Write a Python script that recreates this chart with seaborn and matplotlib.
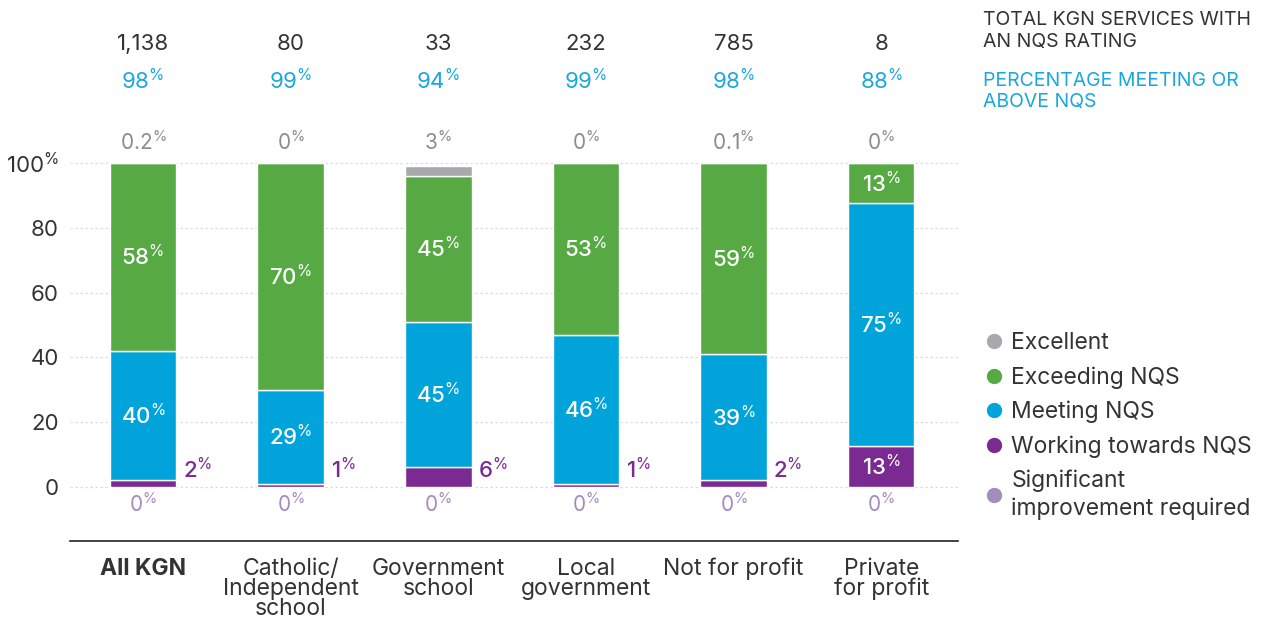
import numpy as np
import matplotlib
matplotlib.use("Agg")
import matplotlib.pyplot as plt
import seaborn as sns
from matplotlib.lines import Line2D

# ------------------------
# Data
# ------------------------
categories = ["All KGN", "Catholic/\nIndependent\nschool", "Government\nschool",
              "Local\ngovernment", "Not for profit", "Private\nfor profit"]
totals = ["1,138", "80", "33", "232", "785", "8"]
pct_meeting = [98, 99, 94, 99, 98, 88]

excellent = [0.2, 0, 3, 0, 0.1, 0]
exceeding = [58, 70, 45, 53, 59, 12.5]
meeting = [40, 29, 45, 46, 39, 75]
working = [2, 1, 6, 1, 2, 12.5]
significant = [0, 0, 0, 0, 0, 0]

legend_labels = ["Excellent", "Exceeding NQS", "Meeting NQS",
                 "Working towards NQS", "Significant\nimprovement required"]

c_excellent = "#A7A9AC"
c_exceeding = "#57AA43"
c_meeting = "#00A4DB"
c_working = "#7A2A90"
c_significant = "#A48BC0"
c_text = "#333333"
c_blue_text = "#1AA7DE"

sns.set_style("white")
plt.rcParams["font.family"] = ["Inter", "DejaVu Sans"]
plt.rcParams["mathtext.fontset"] = "custom"
plt.rcParams["mathtext.rm"] = "Inter"
plt.rcParams["mathtext.it"] = "Inter"
plt.rcParams["mathtext.bf"] = "Inter:medium"


def pct(v):
    if v == int(v) or v >= 1:
        s = str(int(np.floor(v + 0.5)))
    else:
        s = f"{v:.1f}"
    return s + r"$^{\%}$"


fig = plt.figure(figsize=(12.78, 6.18), dpi=100)
ax = fig.add_axes([70 / 1278, 1 - 541 / 618, 888 / 1278, 541 / 618])

x = np.arange(len(categories))
layers = [(significant, c_significant), (working, c_working),
          (meeting, c_meeting), (exceeding, c_exceeding),
          (excellent, c_excellent)]
bottom = np.zeros(len(categories))
for vals, col in layers:
    sns.barplot(x=x, y=vals, bottom=bottom, color=col, width=0.45,
                saturation=1, edgecolor="white", linewidth=1, ax=ax,
                native_scale=True)
    bottom = bottom + np.array(vals)

ax.set_xlim(-0.495, 5.52)
ax.set_ylim(-16.7, 150.3)

# grid
for g in range(0, 101, 20):
    ax.axhline(g, color="#DDDDDD", lw=0.9, ls=(0, (2, 2)), zorder=0)

ax.set_yticks(range(0, 101, 20))
ax.set_yticklabels(["0", "20", "40", "60", "80", r"100$^{\%}$"])
ax.tick_params(axis="y", length=0, labelsize=16, colors=c_text, pad=8)
ax.set_xticks(x)
ax.set_xticklabels(categories, fontsize=16.5, color=c_text, linespacing=0.9)
ax.get_xticklabels()[0].set_fontweight("bold")
ax.tick_params(axis="x", length=0, pad=12)
ax.set_xlabel("")
ax.set_ylabel("")
for s in ["top", "right", "left"]:
    ax.spines[s].set_visible(False)
ax.spines["bottom"].set_color("#222222")
ax.spines["bottom"].set_linewidth(1.2)

# labels
for i in range(len(categories)):
    w0 = working[i]
    m0 = meeting[i]
    e0 = exceeding[i]
    ax.text(i, -5.2, pct(significant[i]), ha="center", va="center",
            fontsize=15, color=c_significant)
    if w0 < 10:
        ax.text(i + 0.27, 5.2, pct(w0), ha="left", va="center",
                fontsize=16, color=c_working, fontweight="medium")
    else:
        ax.text(i, w0 / 2, pct(w0), ha="center", va="center",
                fontsize=16, color="white", fontweight="medium")
    ax.text(i, w0 + m0 / 2, pct(m0), ha="center", va="center",
            fontsize=16, color="white", fontweight="medium")
    ax.text(i, w0 + m0 + e0 / 2, pct(e0), ha="center", va="center",
            fontsize=16, color="white", fontweight="medium")
    ax.text(i, 106.5, pct(excellent[i]), ha="center", va="center",
            fontsize=15, color="#8C8C8C")
    ax.text(i, 125.3, pct(pct_meeting[i]), ha="center", va="center",
            fontsize=16, color=c_blue_text)
    ax.text(i, 136.7, totals[i], ha="center", va="center",
            fontsize=16, color=c_text)

# header notes
fig.text(983 / 1278, 1 - 11 / 618, "TOTAL KGN SERVICES WITH\nAN NQS RATING",
         ha="left", va="top", fontsize=14, color=c_text, linespacing=1.25)
fig.text(983 / 1278, 1 - 72 / 618, "PERCENTAGE MEETING OR\nABOVE NQS",
         ha="left", va="top", fontsize=14, color=c_blue_text, linespacing=1.25)

# legend
cols = [c_excellent, c_exceeding, c_meeting, c_working, c_significant]
handles = [Line2D([0], [0], marker="o", ls="", markersize=10, color=c)
           for c in cols]
leg = fig.legend(handles, legend_labels, loc="upper left",
                 bbox_to_anchor=(969 / 1278, 1 - 321 / 618), frameon=False,
                 fontsize=16.5, handletextpad=0.15, labelspacing=0.52,
                 handlelength=1.2, borderpad=0)
for t in leg.get_texts():
    t.set_color(c_text)
    t.set_linespacing(1.3)

plt.savefig("out.png", dpi=100)
